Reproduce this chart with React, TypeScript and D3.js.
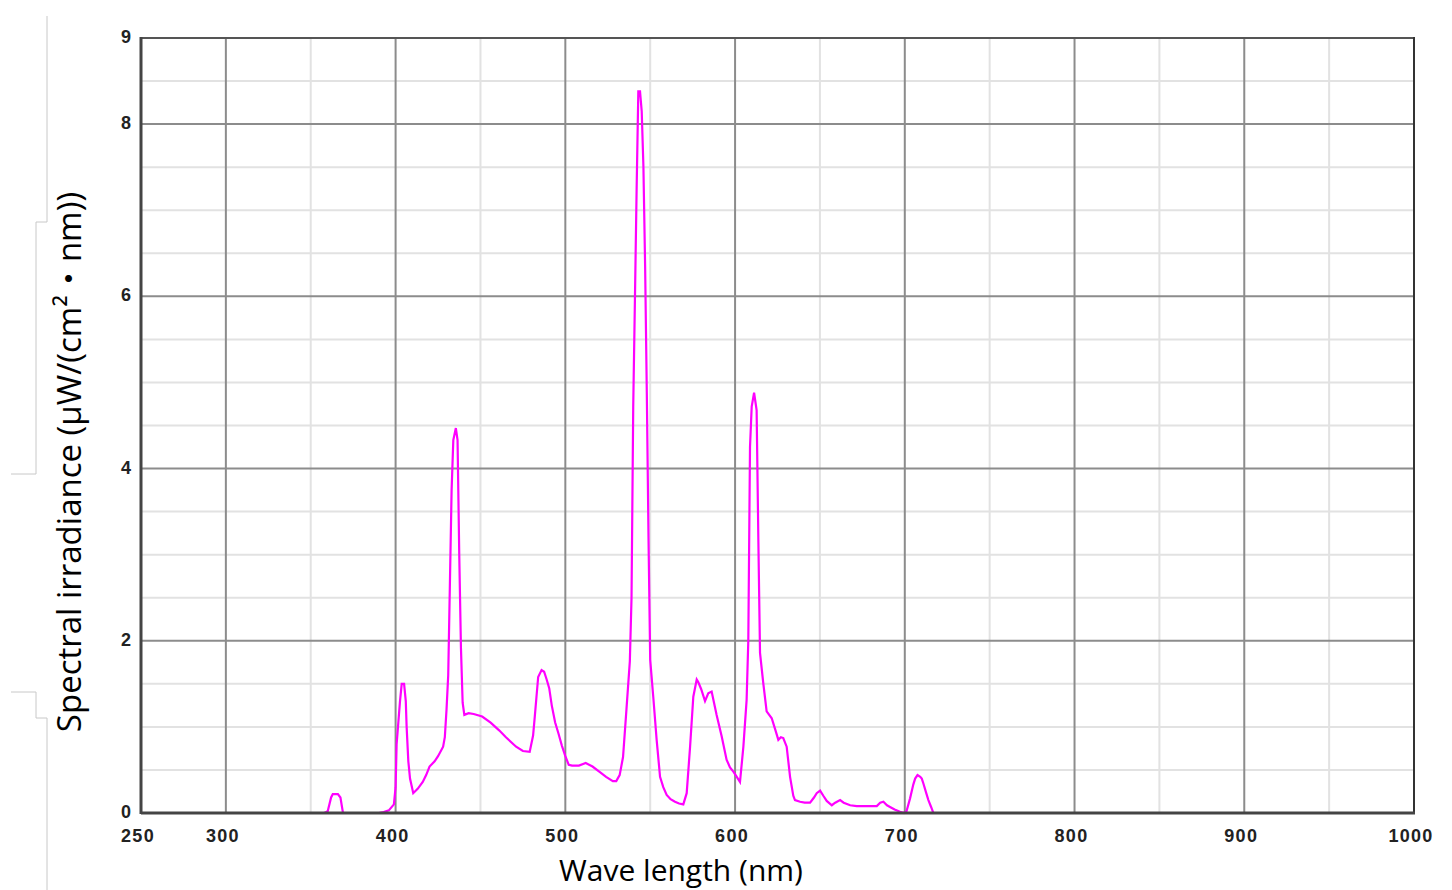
import React from "react";
import * as d3 from "d3";

// Spectrum (wavelength nm, irradiance µW/(cm²·nm))
const wavelengths: number[] = [
  358, 360, 362, 363, 366, 367.5, 369, 370, 390, 393, 396, 399, 400, 400.6, 401.6, 402.6, 403.6, 405, 406, 406.5,
  407.5, 408.5, 410.4, 413, 416, 418, 420, 423, 425, 428, 429, 430, 431, 432, 433, 434, 435.5, 436.5, 437.5, 438.5,
  439.5, 440.5, 443, 446, 451, 456, 461, 465, 471, 475, 479, 481, 482, 483, 484, 486, 487.5, 489, 490.5, 492,
  494, 496, 498, 500, 502, 504, 508, 512, 516, 520, 524, 528, 530, 532, 534, 536, 538, 539, 540, 541,
  542, 543, 544, 545, 546, 547, 548, 549, 550, 551.8, 553.8, 555.8, 557.7, 559.7, 562, 564.6, 567, 569.5, 571.5, 573.5,
  575.4, 577.4, 578.3, 580, 582.3, 584.2, 586.2, 589.1, 592.1, 595, 597, 599, 601, 602.9, 604.9, 606.8, 607.8, 608.8, 609.8, 611.2,
  612.7, 613.7, 614.7, 616.6, 618.6, 621.6, 623.5, 625.5, 627, 628.4, 630.4, 632.4, 634.3, 635.3, 638.3, 641, 644.2, 646.5, 648.1, 650.1,
  652, 654, 657, 659, 661.9, 664, 667.8, 671.7, 676, 680, 683.5, 685.5, 687.4, 689.5, 691.3, 694, 697.2, 699.5, 701, 703.1,
  705, 706.1, 707.5, 709.1, 710, 711, 712.5, 713.9, 715.5, 716.8, 719,
];
const irradiance: number[] = [
  0, 0.02, 0.18, 0.22, 0.22, 0.18, 0, 0, 0, 0.01, 0.03, 0.1, 0.3, 0.8, 1.05, 1.3, 1.5, 1.5, 1.3, 1.0,
  0.6, 0.4, 0.23, 0.28, 0.36, 0.44, 0.54, 0.6, 0.66, 0.77, 0.88, 1.2, 1.6, 2.67, 3.75, 4.33, 4.47, 4.33, 3.0, 1.92,
  1.28, 1.14, 1.16, 1.15, 1.12, 1.05, 0.96, 0.88, 0.77, 0.72, 0.71, 0.9, 1.12, 1.35, 1.58, 1.66, 1.64, 1.55, 1.45, 1.25,
  1.05, 0.92, 0.78, 0.66, 0.56, 0.55, 0.55, 0.58, 0.54, 0.48, 0.42, 0.37, 0.37, 0.44, 0.65, 1.2, 1.76, 2.5, 4.72, 5.96,
  7.24, 8.38, 8.38, 8.15, 7.51, 6.36, 4.88, 3.2, 1.78, 1.35, 0.85, 0.42, 0.3, 0.21, 0.16, 0.13, 0.11, 0.1, 0.23, 0.77,
  1.35, 1.55, 1.52, 1.44, 1.3, 1.39, 1.41, 1.14, 0.89, 0.62, 0.53, 0.48, 0.42, 0.36, 0.77, 1.31, 2.0, 4.25, 4.72, 4.88,
  4.68, 3.2, 1.86, 1.51, 1.18, 1.1, 0.98, 0.85, 0.88, 0.87, 0.77, 0.42, 0.2, 0.15, 0.13, 0.12, 0.12, 0.18, 0.23, 0.26,
  0.2, 0.14, 0.09, 0.12, 0.15, 0.12, 0.09, 0.08, 0.08, 0.08, 0.08, 0.12, 0.13, 0.09, 0.07, 0.04, 0.015, 0, 0.02, 0.17,
  0.33, 0.4, 0.44, 0.42, 0.4, 0.34, 0.24, 0.15, 0.07, 0, 0,
];

const xTickLabels: number[] = [250, 300, 400, 500, 600, 700, 800, 900, 1000];
const xMajorGrid: number[] = [300, 400, 500, 600, 700, 800, 900];
const xMinorGrid: number[] = [350, 450, 550, 650, 750, 850, 950];
const yTickLabels: number[] = [0, 2, 4, 6, 8, 9];
const yMajorGrid: number[] = [2, 4, 6, 8];
const yMinorGrid: number[] = [0.5, 1, 1.5, 2.5, 3, 3.5, 4.5, 5, 5.5, 6.5, 7, 7.5, 8.5];

const xTitle = "Wave length (nm)";
const yTitle = "Spectral irradiance (μW/(cm²・nm))";

export default function App() {
  const left = 141, right = 1414, top = 38, bottom = 813;
  const x = d3.scaleLinear().domain([250, 1000]).range([left, right]);
  const y = d3.scaleLinear().domain([0, 9]).range([bottom, top]);
  const pts: [number, number][] = wavelengths.map((w, i) => [w, irradiance[i]]);
  const line = d3
    .line<[number, number]>()
    .x((d) => x(d[0]))
    .y((d) => y(d[1]))
    .curve(d3.curveLinear);

  const tickFont = "'Liberation Sans', Arial, sans-serif";
  const titleFont = "'Open Sans', 'Noto Sans', 'Noto Sans CJK JP', sans-serif";

  return (
    <svg
      width={1452}
      height={890}
      style={{ position: "absolute", left: 0, top: 0, background: "#fff" }}
    >
      <rect x={0} y={0} width={1452} height={890} fill="#fff" />
      {/* stray bracket lines on the left */}
      <polyline points="47,16 47,222 36,222 36,474 11,474" fill="none" stroke="#c8c8c8" strokeWidth={1} />
      <polyline points="11,692 36,692 36,718 47,718 47,890" fill="none" stroke="#c8c8c8" strokeWidth={1} />

      {/* minor grid */}
      {xMinorGrid.map((v) => (
        <line key={"xm" + v} x1={x(v)} x2={x(v)} y1={top} y2={bottom} stroke="#e2e2e2" strokeWidth={2} />
      ))}
      {yMinorGrid.map((v) => (
        <line key={"ym" + v} x1={left} x2={right} y1={y(v)} y2={y(v)} stroke="#e2e2e2" strokeWidth={2} />
      ))}
      {/* major grid */}
      {xMajorGrid.map((v) => (
        <line key={"xM" + v} x1={x(v)} x2={x(v)} y1={top} y2={bottom} stroke="#8c8c8c" strokeWidth={2} />
      ))}
      {yMajorGrid.map((v) => (
        <line key={"yM" + v} x1={left} x2={right} y1={y(v)} y2={y(v)} stroke="#8c8c8c" strokeWidth={2} />
      ))}

      {/* spectrum */}
      <path d={line(pts) || ""} fill="none" stroke="#ff00ff" strokeWidth={2.2} strokeLinejoin="miter" />

      {/* frame */}
      <line x1={left} x2={right} y1={top} y2={top} stroke="#555" strokeWidth={2} />
      <line x1={right} x2={right} y1={top - 1} y2={bottom} stroke="#333" strokeWidth={2} />
      <line x1={left} x2={right + 1} y1={bottom} y2={bottom} stroke="#444" strokeWidth={3} />
      <line x1={left} x2={left} y1={top - 1} y2={bottom + 1} stroke="#444" strokeWidth={3} />

      {/* tick labels */}
      {yTickLabels.map((v) => (
        <text
          key={"yl" + v}
          x={131}
          y={y(v) + 5}
          textAnchor="end"
          fontFamily={tickFont}
          fontWeight="bold"
          fontSize={18}
          fill="#222"
        >
          {v}
        </text>
      ))}
      {xTickLabels.map((v) => (
        <text
          key={"xl" + v}
          x={x(v) - 3}
          y={842}
          textAnchor="middle"
          fontFamily={tickFont}
          fontWeight="bold"
          fontSize={18}
          letterSpacing={1.3}
          fill="#222"
        >
          {v}
        </text>
      ))}

      {/* axis titles */}
      <text x={681} y={881} textAnchor="middle" fontFamily={titleFont} fontSize={30} fill="#000">
        {xTitle}
      </text>
      <text
        transform="translate(81,462) rotate(-90)"
        textAnchor="middle"
        fontFamily={titleFont}
        fontSize={33}
        fill="#000"
      >
        {yTitle}
      </text>
    </svg>
  );
}
